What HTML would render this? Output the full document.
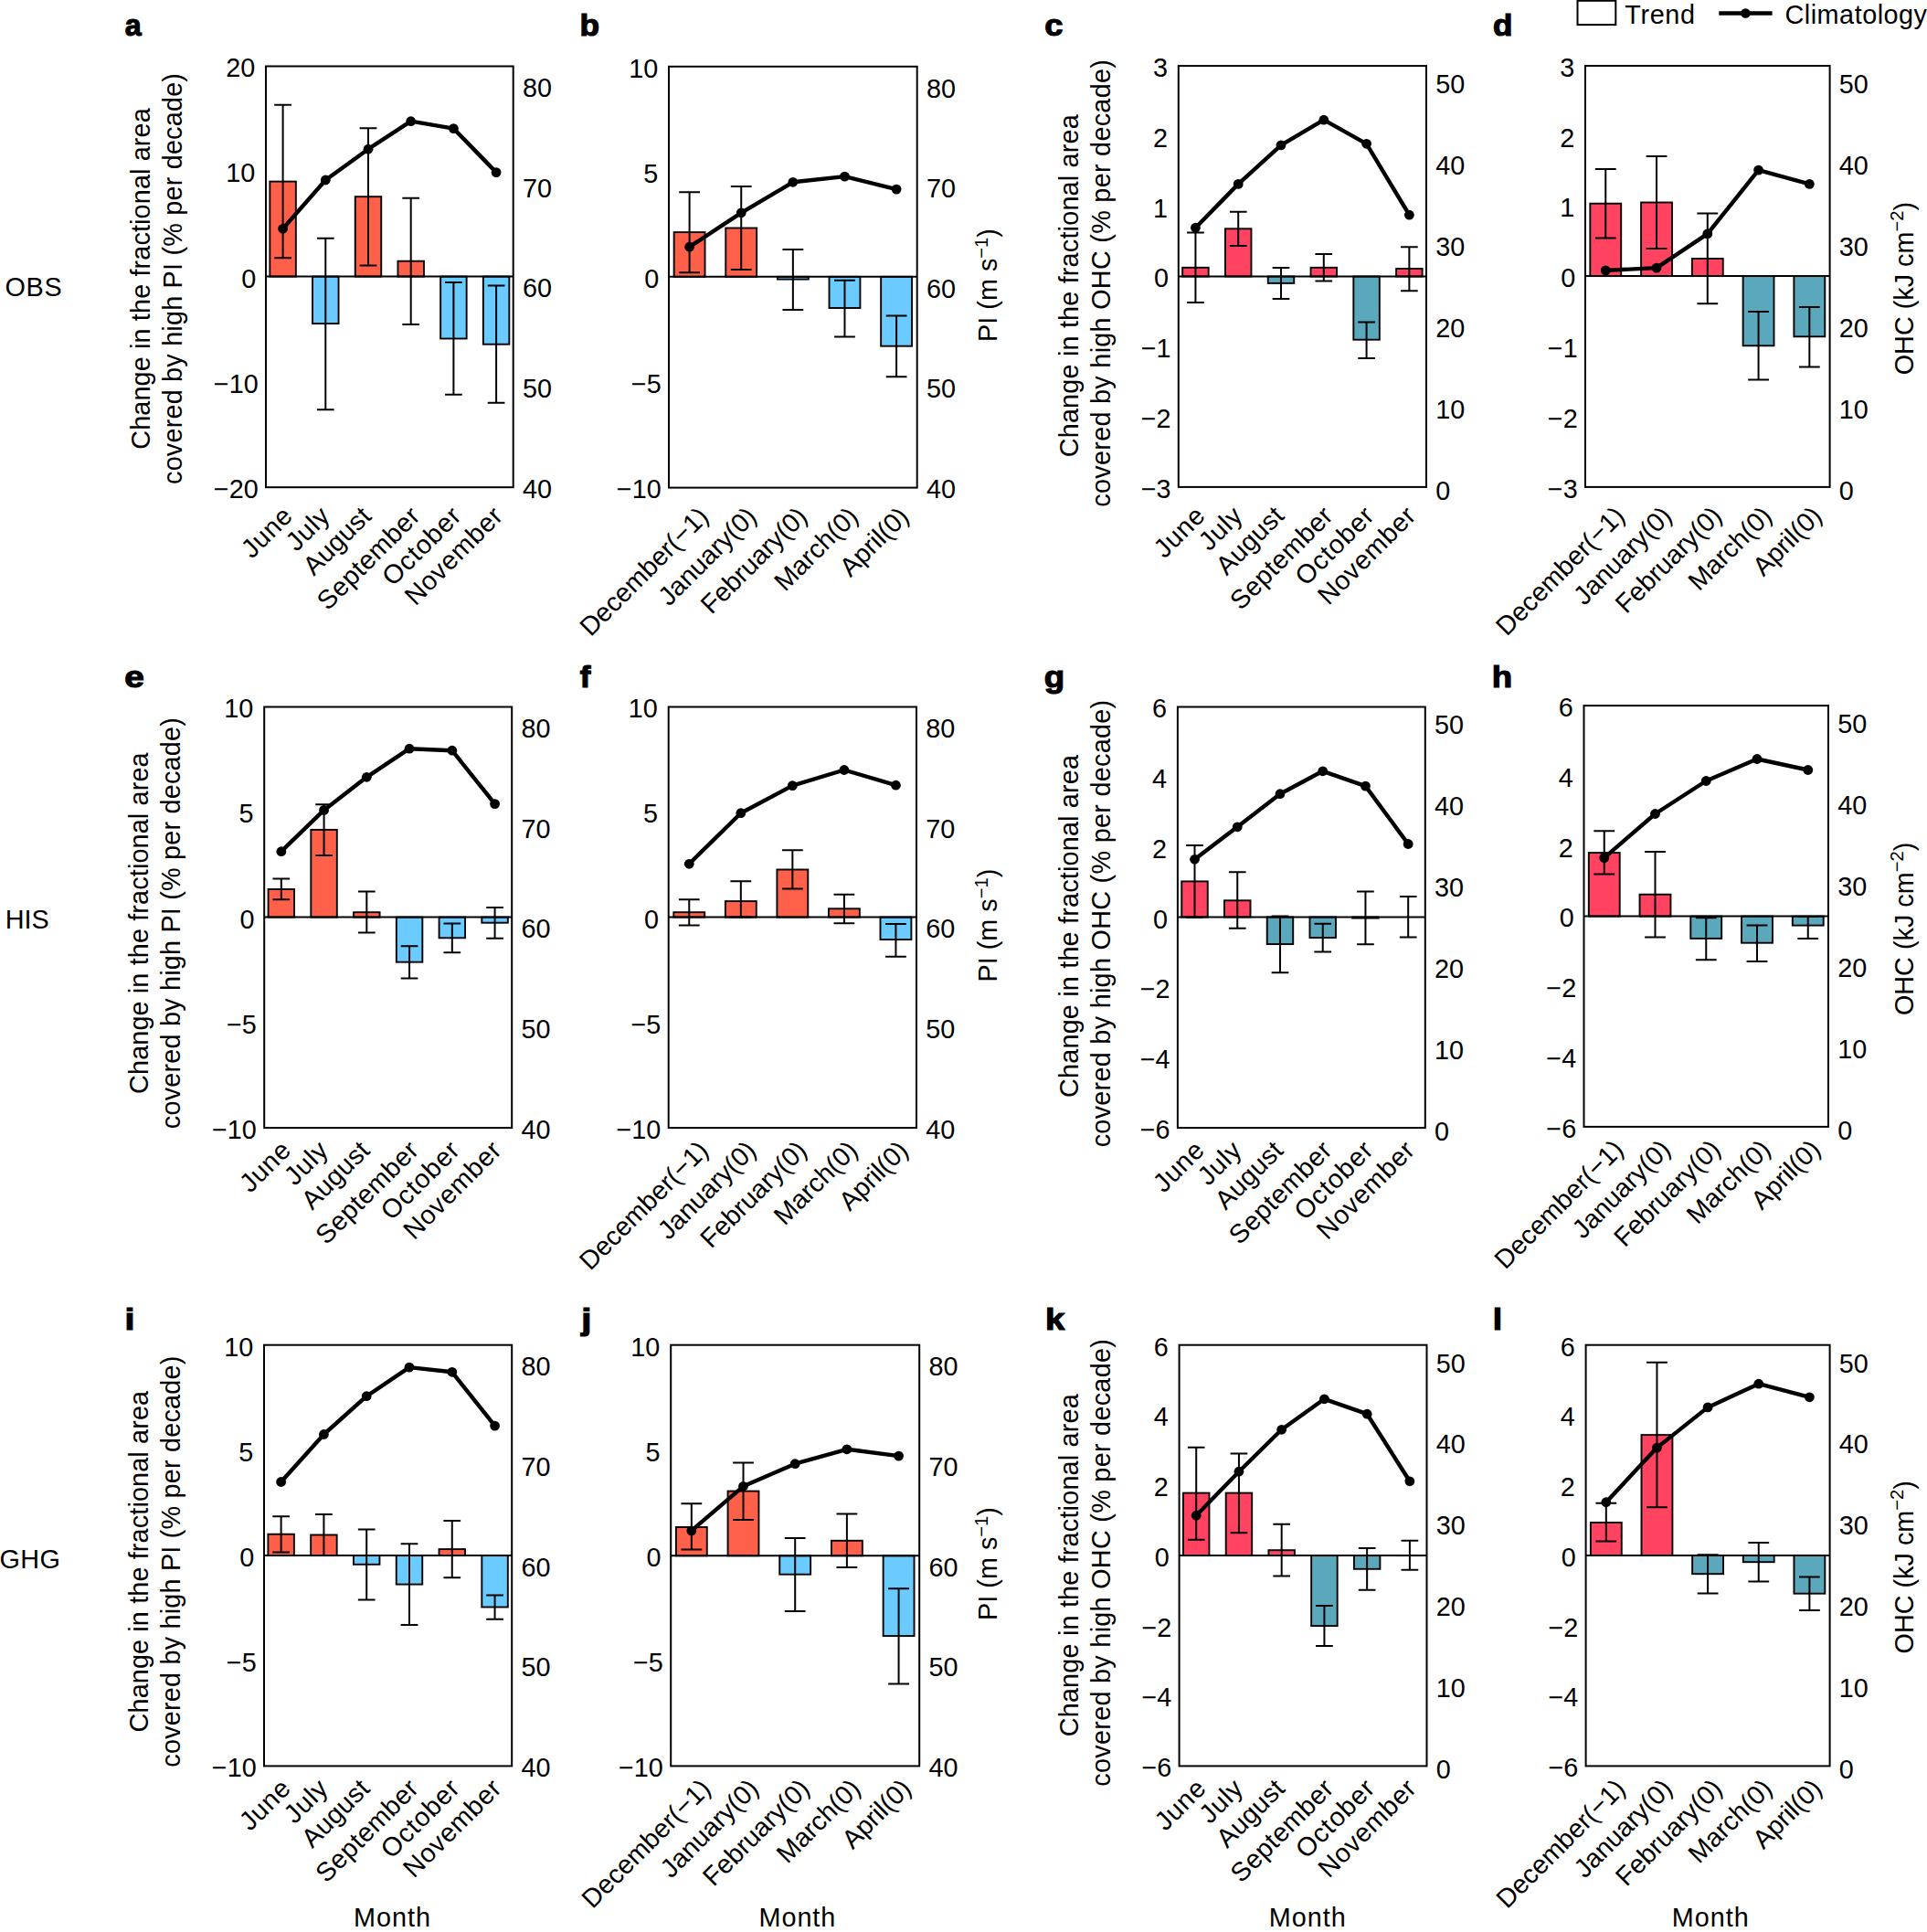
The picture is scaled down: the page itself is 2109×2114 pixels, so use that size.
<!DOCTYPE html><html><head><meta charset="utf-8"><style>html,body{margin:0;padding:0;background:#fff;overflow:hidden;}svg{display:block;}text{font-family:"Liberation Sans",sans-serif;font-size:28.8px;fill:#000;}</style></head><body>
<svg width="2109" height="2114" viewBox="0 0 2109 2114" xmlns="http://www.w3.org/2000/svg">
<rect width="2109" height="2114" fill="#fff"/>
<rect x="295.35" y="198.6" width="28.5" height="104" fill="#FF604A" stroke="#000" stroke-width="1.9"/>
<rect x="342.05" y="302.6" width="28.5" height="51.5" fill="#6BCBFF" stroke="#000" stroke-width="1.9"/>
<rect x="388.75" y="215.2" width="28.5" height="87.4" fill="#FF604A" stroke="#000" stroke-width="1.9"/>
<rect x="435.45" y="285.7" width="28.5" height="16.9" fill="#FF604A" stroke="#000" stroke-width="1.9"/>
<rect x="482.15" y="302.6" width="28.5" height="67.9" fill="#6BCBFF" stroke="#000" stroke-width="1.9"/>
<rect x="528.85" y="302.6" width="28.5" height="74.1" fill="#6BCBFF" stroke="#000" stroke-width="1.9"/>
<line x1="291" y1="302.6" x2="561.7" y2="302.6" stroke="#000" stroke-width="2"/>
<path d="M309.6 114.8V282.3M300.25 114.8H318.95M300.25 282.3H318.95" stroke="#000" stroke-width="2" fill="none"/>
<path d="M356.3 260.8V448.3M346.95 260.8H365.65M346.95 448.3H365.65" stroke="#000" stroke-width="2" fill="none"/>
<path d="M403 140.2V290.4M393.65 140.2H412.35M393.65 290.4H412.35" stroke="#000" stroke-width="2" fill="none"/>
<path d="M449.7 216.8V354.9M440.35 216.8H459.05M440.35 354.9H459.05" stroke="#000" stroke-width="2" fill="none"/>
<path d="M496.4 309V431.7M487.05 309H505.75M487.05 431.7H505.75" stroke="#000" stroke-width="2" fill="none"/>
<path d="M543.1 312.6V440.7M533.75 312.6H552.45M533.75 440.7H552.45" stroke="#000" stroke-width="2" fill="none"/>
<polyline points="309.6,250.3 356.3,197 403,163.2 449.7,132.7 496.4,140.6 543.1,188.6" fill="none" stroke="#000" stroke-width="4.4" stroke-linejoin="round"/>
<circle cx="309.6" cy="250.3" r="5.4"/>
<circle cx="356.3" cy="197" r="5.4"/>
<circle cx="403" cy="163.2" r="5.4"/>
<circle cx="449.7" cy="132.7" r="5.4"/>
<circle cx="496.4" cy="140.6" r="5.4"/>
<circle cx="543.1" cy="188.6" r="5.4"/>
<rect x="291" y="72.5" width="270.7" height="460.7" fill="none" stroke="#000" stroke-width="2"/>
<text x="279.2" y="84.31" text-anchor="end">20</text>
<text x="279.2" y="199.49" text-anchor="end">10</text>
<text x="280.2" y="314.66" text-anchor="end">0</text>
<text x="282.7" y="429.84" text-anchor="end">−10</text>
<text x="282.7" y="545.01" text-anchor="end">−20</text>
<text x="571.9" y="106.21">80</text>
<text x="571.9" y="215.81">70</text>
<text x="571.9" y="325.41">60</text>
<text x="571.9" y="435.01">50</text>
<text x="571.9" y="544.61">40</text>
<text transform="translate(321.6 566.5) rotate(-45)" text-anchor="end" textLength="64.8">June</text>
<text transform="translate(362.4 566.5) rotate(-45)" text-anchor="end" textLength="53.6">July</text>
<text transform="translate(407.9 566.5) rotate(-45)" text-anchor="end" textLength="91.2">August</text>
<text transform="translate(461.3 566.5) rotate(-45)" text-anchor="end" textLength="144.9">September</text>
<text transform="translate(506.2 566.5) rotate(-45)" text-anchor="end" textLength="107.6">October</text>
<text transform="translate(551.8 566.5) rotate(-45)" text-anchor="end" textLength="137.4">November</text>
<rect x="737.65" y="254.1" width="33.9" height="48.7" fill="#FF604A" stroke="#000" stroke-width="1.9"/>
<rect x="794.27" y="249.5" width="33.9" height="53.3" fill="#FF604A" stroke="#000" stroke-width="1.9"/>
<rect x="850.9" y="302.8" width="33.9" height="2.8" fill="#6BCBFF" stroke="#000" stroke-width="1.9"/>
<rect x="907.52" y="302.8" width="33.9" height="34.2" fill="#6BCBFF" stroke="#000" stroke-width="1.9"/>
<rect x="964.15" y="302.8" width="33.9" height="75.9" fill="#6BCBFF" stroke="#000" stroke-width="1.9"/>
<line x1="732" y1="302.8" x2="1003.7" y2="302.8" stroke="#000" stroke-width="2"/>
<path d="M754.6 210.2V298.2M743.2 210.2H766M743.2 298.2H766" stroke="#000" stroke-width="2" fill="none"/>
<path d="M811.23 204V295.1M799.83 204H822.62M799.83 295.1H822.62" stroke="#000" stroke-width="2" fill="none"/>
<path d="M867.85 273V339M856.45 273H879.25M856.45 339H879.25" stroke="#000" stroke-width="2" fill="none"/>
<path d="M924.48 306.7V368.6M913.08 306.7H935.88M913.08 368.6H935.88" stroke="#000" stroke-width="2" fill="none"/>
<path d="M981.1 345.6V412.2M969.7 345.6H992.5M969.7 412.2H992.5" stroke="#000" stroke-width="2" fill="none"/>
<polyline points="754.6,270.2 811.23,232.8 867.85,199.3 924.48,193.1 981.1,207.1" fill="none" stroke="#000" stroke-width="4.4" stroke-linejoin="round"/>
<circle cx="754.6" cy="270.2" r="5.4"/>
<circle cx="811.23" cy="232.8" r="5.4"/>
<circle cx="867.85" cy="199.3" r="5.4"/>
<circle cx="924.48" cy="193.1" r="5.4"/>
<circle cx="981.1" cy="207.1" r="5.4"/>
<rect x="732" y="72.8" width="271.7" height="460.8" fill="none" stroke="#000" stroke-width="2"/>
<text x="720.2" y="84.61" text-anchor="end">10</text>
<text x="720.2" y="199.81" text-anchor="end">5</text>
<text x="721.2" y="315.01" text-anchor="end">0</text>
<text x="723.7" y="430.21" text-anchor="end">−5</text>
<text x="723.7" y="545.41" text-anchor="end">−10</text>
<text x="1013.9" y="106.61">80</text>
<text x="1013.9" y="216.21">70</text>
<text x="1013.9" y="325.81">60</text>
<text x="1013.9" y="435.41">50</text>
<text x="1013.9" y="545.01">40</text>
<text transform="translate(777.1 566.9) rotate(-45)" text-anchor="end">December(−1)</text>
<text transform="translate(829.52 566.9) rotate(-45)" text-anchor="end">January(0)</text>
<text transform="translate(885.15 566.9) rotate(-45)" text-anchor="end">February(0)</text>
<text transform="translate(940.77 566.9) rotate(-45)" text-anchor="end">March(0)</text>
<text transform="translate(996.3 566.9) rotate(-45)" text-anchor="end">April(0)</text>
<rect x="1294.18" y="292.8" width="28.5" height="9.7" fill="#FF4361" stroke="#000" stroke-width="1.9"/>
<rect x="1340.97" y="250.3" width="28.5" height="52.2" fill="#FF4361" stroke="#000" stroke-width="1.9"/>
<rect x="1387.76" y="302.5" width="28.5" height="7.4" fill="#5BA7BC" stroke="#000" stroke-width="1.9"/>
<rect x="1434.54" y="292.8" width="28.5" height="9.7" fill="#FF4361" stroke="#000" stroke-width="1.9"/>
<rect x="1481.33" y="302.5" width="28.5" height="69.2" fill="#5BA7BC" stroke="#000" stroke-width="1.9"/>
<rect x="1528.12" y="294" width="28.5" height="8.5" fill="#FF4361" stroke="#000" stroke-width="1.9"/>
<line x1="1289.8" y1="302.5" x2="1561" y2="302.5" stroke="#000" stroke-width="2"/>
<path d="M1308.43 254.6V330.9M1299.08 254.6H1317.78M1299.08 330.9H1317.78" stroke="#000" stroke-width="2" fill="none"/>
<path d="M1355.22 231.7V268.9M1345.87 231.7H1364.57M1345.87 268.9H1364.57" stroke="#000" stroke-width="2" fill="none"/>
<path d="M1402.01 293.1V327.1M1392.66 293.1H1411.36M1392.66 327.1H1411.36" stroke="#000" stroke-width="2" fill="none"/>
<path d="M1448.79 278V307.4M1439.44 278H1458.14M1439.44 307.4H1458.14" stroke="#000" stroke-width="2" fill="none"/>
<path d="M1495.58 352.6V392M1486.23 352.6H1504.93M1486.23 392H1504.93" stroke="#000" stroke-width="2" fill="none"/>
<path d="M1542.37 270.2V318.3M1533.02 270.2H1551.72M1533.02 318.3H1551.72" stroke="#000" stroke-width="2" fill="none"/>
<polyline points="1308.43,249.2 1355.22,201.4 1402.01,158.9 1448.79,131.2 1495.58,157.3 1542.37,235.2" fill="none" stroke="#000" stroke-width="4.4" stroke-linejoin="round"/>
<circle cx="1308.43" cy="249.2" r="5.4"/>
<circle cx="1355.22" cy="201.4" r="5.4"/>
<circle cx="1402.01" cy="158.9" r="5.4"/>
<circle cx="1448.79" cy="131.2" r="5.4"/>
<circle cx="1495.58" cy="157.3" r="5.4"/>
<circle cx="1542.37" cy="235.2" r="5.4"/>
<rect x="1289.8" y="72.1" width="271.2" height="460.8" fill="none" stroke="#000" stroke-width="2"/>
<text x="1278" y="83.91" text-anchor="end">3</text>
<text x="1278" y="160.71" text-anchor="end">2</text>
<text x="1278" y="237.51" text-anchor="end">1</text>
<text x="1279" y="314.31" text-anchor="end">0</text>
<text x="1281.5" y="391.11" text-anchor="end">−1</text>
<text x="1281.5" y="467.91" text-anchor="end">−2</text>
<text x="1281.5" y="544.71" text-anchor="end">−3</text>
<text x="1571.2" y="102.01">50</text>
<text x="1571.2" y="190.91">40</text>
<text x="1571.2" y="279.81">30</text>
<text x="1571.2" y="368.71">20</text>
<text x="1571.2" y="457.61">10</text>
<text x="1571.2" y="546.51">0</text>
<text transform="translate(1320.43 566.2) rotate(-45)" text-anchor="end" textLength="64.8">June</text>
<text transform="translate(1361.32 566.2) rotate(-45)" text-anchor="end" textLength="53.6">July</text>
<text transform="translate(1406.91 566.2) rotate(-45)" text-anchor="end" textLength="91.2">August</text>
<text transform="translate(1460.39 566.2) rotate(-45)" text-anchor="end" textLength="144.9">September</text>
<text transform="translate(1505.38 566.2) rotate(-45)" text-anchor="end" textLength="107.6">October</text>
<text transform="translate(1551.07 566.2) rotate(-45)" text-anchor="end" textLength="137.4">November</text>
<rect x="1740.31" y="222.7" width="33.9" height="79.4" fill="#FF4361" stroke="#000" stroke-width="1.9"/>
<rect x="1796.08" y="221.5" width="33.9" height="80.6" fill="#FF4361" stroke="#000" stroke-width="1.9"/>
<rect x="1851.85" y="283" width="33.9" height="19.1" fill="#FF4361" stroke="#000" stroke-width="1.9"/>
<rect x="1907.62" y="302.1" width="33.9" height="76.2" fill="#5BA7BC" stroke="#000" stroke-width="1.9"/>
<rect x="1963.39" y="302.1" width="33.9" height="66.2" fill="#5BA7BC" stroke="#000" stroke-width="1.9"/>
<line x1="1735" y1="302.1" x2="2002.6" y2="302.1" stroke="#000" stroke-width="2"/>
<path d="M1757.26 185V260.4M1745.86 185H1768.66M1745.86 260.4H1768.66" stroke="#000" stroke-width="2" fill="none"/>
<path d="M1813.03 171V272M1801.63 171H1824.43M1801.63 272H1824.43" stroke="#000" stroke-width="2" fill="none"/>
<path d="M1868.8 233.6V332.3M1857.4 233.6H1880.2M1857.4 332.3H1880.2" stroke="#000" stroke-width="2" fill="none"/>
<path d="M1924.57 341.1V415.6M1913.17 341.1H1935.97M1913.17 415.6H1935.97" stroke="#000" stroke-width="2" fill="none"/>
<path d="M1980.34 335.9V401.6M1968.94 335.9H1991.74M1968.94 401.6H1991.74" stroke="#000" stroke-width="2" fill="none"/>
<polyline points="1757.26,295.9 1813.03,293.1 1868.8,255.9 1924.57,186.1 1980.34,201.4" fill="none" stroke="#000" stroke-width="4.4" stroke-linejoin="round"/>
<circle cx="1757.26" cy="295.9" r="5.4"/>
<circle cx="1813.03" cy="293.1" r="5.4"/>
<circle cx="1868.8" cy="255.9" r="5.4"/>
<circle cx="1924.57" cy="186.1" r="5.4"/>
<circle cx="1980.34" cy="201.4" r="5.4"/>
<rect x="1735" y="72" width="267.6" height="460.9" fill="none" stroke="#000" stroke-width="2"/>
<text x="1723.2" y="83.81" text-anchor="end">3</text>
<text x="1723.2" y="160.63" text-anchor="end">2</text>
<text x="1723.2" y="237.44" text-anchor="end">1</text>
<text x="1724.2" y="314.26" text-anchor="end">0</text>
<text x="1726.7" y="391.08" text-anchor="end">−1</text>
<text x="1726.7" y="467.89" text-anchor="end">−2</text>
<text x="1726.7" y="544.71" text-anchor="end">−3</text>
<text x="2012.8" y="102.01">50</text>
<text x="2012.8" y="190.91">40</text>
<text x="2012.8" y="279.81">30</text>
<text x="2012.8" y="368.71">20</text>
<text x="2012.8" y="457.61">10</text>
<text x="2012.8" y="546.51">0</text>
<text transform="translate(1779.76 566.2) rotate(-45)" text-anchor="end">December(−1)</text>
<text transform="translate(1831.33 566.2) rotate(-45)" text-anchor="end">January(0)</text>
<text transform="translate(1886.1 566.2) rotate(-45)" text-anchor="end">February(0)</text>
<text transform="translate(1940.87 566.2) rotate(-45)" text-anchor="end">March(0)</text>
<text transform="translate(1995.54 566.2) rotate(-45)" text-anchor="end">April(0)</text>
<rect x="293.57" y="973" width="28.5" height="30.6" fill="#FF604A" stroke="#000" stroke-width="1.9"/>
<rect x="340.32" y="907.9" width="28.5" height="95.7" fill="#FF604A" stroke="#000" stroke-width="1.9"/>
<rect x="387.07" y="998.2" width="28.5" height="5.4" fill="#FF604A" stroke="#000" stroke-width="1.9"/>
<rect x="433.83" y="1003.6" width="28.5" height="49.1" fill="#6BCBFF" stroke="#000" stroke-width="1.9"/>
<rect x="480.58" y="1003.6" width="28.5" height="22.7" fill="#6BCBFF" stroke="#000" stroke-width="1.9"/>
<rect x="527.33" y="1003.6" width="28.5" height="6.1" fill="#6BCBFF" stroke="#000" stroke-width="1.9"/>
<line x1="289.2" y1="1003.6" x2="560.2" y2="1003.6" stroke="#000" stroke-width="2"/>
<path d="M307.82 961.6V984.2M298.47 961.6H317.17M298.47 984.2H317.17" stroke="#000" stroke-width="2" fill="none"/>
<path d="M354.57 880.2V935.9M345.22 880.2H363.92M345.22 935.9H363.92" stroke="#000" stroke-width="2" fill="none"/>
<path d="M401.32 975.6V1020.4M391.97 975.6H410.67M391.97 1020.4H410.67" stroke="#000" stroke-width="2" fill="none"/>
<path d="M448.08 1035.2V1070.6M438.73 1035.2H457.43M438.73 1070.6H457.43" stroke="#000" stroke-width="2" fill="none"/>
<path d="M494.83 1010.6V1042.2M485.48 1010.6H504.18M485.48 1042.2H504.18" stroke="#000" stroke-width="2" fill="none"/>
<path d="M541.58 993.1V1026.7M532.23 993.1H550.93M532.23 1026.7H550.93" stroke="#000" stroke-width="2" fill="none"/>
<polyline points="307.82,931.7 354.57,886.4 401.32,850.3 448.08,819.2 494.83,821.2 541.58,879.6" fill="none" stroke="#000" stroke-width="4.4" stroke-linejoin="round"/>
<circle cx="307.82" cy="931.7" r="5.4"/>
<circle cx="354.57" cy="886.4" r="5.4"/>
<circle cx="401.32" cy="850.3" r="5.4"/>
<circle cx="448.08" cy="819.2" r="5.4"/>
<circle cx="494.83" cy="821.2" r="5.4"/>
<circle cx="541.58" cy="879.6" r="5.4"/>
<rect x="289.2" y="773.5" width="271" height="460.6" fill="none" stroke="#000" stroke-width="2"/>
<text x="277.4" y="785.31" text-anchor="end">10</text>
<text x="277.4" y="900.46" text-anchor="end">5</text>
<text x="278.4" y="1015.61" text-anchor="end">0</text>
<text x="280.9" y="1130.76" text-anchor="end">−5</text>
<text x="280.9" y="1245.91" text-anchor="end">−10</text>
<text x="570.4" y="807.11">80</text>
<text x="570.4" y="916.71">70</text>
<text x="570.4" y="1026.31">60</text>
<text x="570.4" y="1135.91">50</text>
<text x="570.4" y="1245.51">40</text>
<text transform="translate(319.82 1260.5) rotate(-45)" text-anchor="end" textLength="64.8">June</text>
<text transform="translate(360.67 1260.5) rotate(-45)" text-anchor="end" textLength="53.6">July</text>
<text transform="translate(406.22 1260.5) rotate(-45)" text-anchor="end" textLength="91.2">August</text>
<text transform="translate(459.68 1260.5) rotate(-45)" text-anchor="end" textLength="144.9">September</text>
<text transform="translate(504.63 1260.5) rotate(-45)" text-anchor="end" textLength="107.6">October</text>
<text transform="translate(550.28 1260.5) rotate(-45)" text-anchor="end" textLength="137.4">November</text>
<rect x="737.32" y="998.2" width="33.9" height="5.4" fill="#FF604A" stroke="#000" stroke-width="1.9"/>
<rect x="793.86" y="986.1" width="33.9" height="17.5" fill="#FF604A" stroke="#000" stroke-width="1.9"/>
<rect x="850.4" y="951.5" width="33.9" height="52.1" fill="#FF604A" stroke="#000" stroke-width="1.9"/>
<rect x="906.94" y="994.3" width="33.9" height="9.3" fill="#FF604A" stroke="#000" stroke-width="1.9"/>
<rect x="963.48" y="1003.6" width="33.9" height="24.5" fill="#6BCBFF" stroke="#000" stroke-width="1.9"/>
<line x1="731.7" y1="1003.6" x2="1003" y2="1003.6" stroke="#000" stroke-width="2"/>
<path d="M754.27 984.2V1012.6M742.87 984.2H765.67M742.87 1012.6H765.67" stroke="#000" stroke-width="2" fill="none"/>
<path d="M810.81 964.3V1003.6M799.41 964.3H822.21M799.41 1003.6H822.21" stroke="#000" stroke-width="2" fill="none"/>
<path d="M867.35 930.2V972.5M855.95 930.2H878.75M855.95 972.5H878.75" stroke="#000" stroke-width="2" fill="none"/>
<path d="M923.89 978.7V1010.2M912.49 978.7H935.29M912.49 1010.2H935.29" stroke="#000" stroke-width="2" fill="none"/>
<path d="M980.43 1011V1046.8M969.03 1011H991.83M969.03 1046.8H991.83" stroke="#000" stroke-width="2" fill="none"/>
<polyline points="754.27,945.3 810.81,889.7 867.35,859.6 923.89,842.5 980.43,859.2" fill="none" stroke="#000" stroke-width="4.4" stroke-linejoin="round"/>
<circle cx="754.27" cy="945.3" r="5.4"/>
<circle cx="810.81" cy="889.7" r="5.4"/>
<circle cx="867.35" cy="859.6" r="5.4"/>
<circle cx="923.89" cy="842.5" r="5.4"/>
<circle cx="980.43" cy="859.2" r="5.4"/>
<rect x="731.7" y="773.5" width="271.3" height="460.6" fill="none" stroke="#000" stroke-width="2"/>
<text x="719.9" y="785.31" text-anchor="end">10</text>
<text x="719.9" y="900.46" text-anchor="end">5</text>
<text x="720.9" y="1015.61" text-anchor="end">0</text>
<text x="723.4" y="1130.76" text-anchor="end">−5</text>
<text x="723.4" y="1245.91" text-anchor="end">−10</text>
<text x="1013.2" y="807.11">80</text>
<text x="1013.2" y="916.71">70</text>
<text x="1013.2" y="1026.31">60</text>
<text x="1013.2" y="1135.91">50</text>
<text x="1013.2" y="1245.51">40</text>
<text transform="translate(776.77 1260.5) rotate(-45)" text-anchor="end">December(−1)</text>
<text transform="translate(829.11 1260.5) rotate(-45)" text-anchor="end">January(0)</text>
<text transform="translate(884.65 1260.5) rotate(-45)" text-anchor="end">February(0)</text>
<text transform="translate(940.19 1260.5) rotate(-45)" text-anchor="end">March(0)</text>
<text transform="translate(995.63 1260.5) rotate(-45)" text-anchor="end">April(0)</text>
<rect x="1293.26" y="964.4" width="28.5" height="39.1" fill="#FF4361" stroke="#000" stroke-width="1.9"/>
<rect x="1340" y="985.3" width="28.5" height="18.2" fill="#FF4361" stroke="#000" stroke-width="1.9"/>
<rect x="1386.73" y="1003.5" width="28.5" height="29.6" fill="#5BA7BC" stroke="#000" stroke-width="1.9"/>
<rect x="1433.47" y="1003.5" width="28.5" height="22.6" fill="#5BA7BC" stroke="#000" stroke-width="1.9"/>
<rect x="1480.2" y="1003.5" width="28.5" height="1.1" fill="#5BA7BC" stroke="#000" stroke-width="1.9"/>
<line x1="1288.9" y1="1003.5" x2="1559.8" y2="1003.5" stroke="#000" stroke-width="2"/>
<path d="M1307.51 925V1003.8M1298.16 925H1316.86M1298.16 1003.8H1316.86" stroke="#000" stroke-width="2" fill="none"/>
<path d="M1354.25 954.3V1015.7M1344.9 954.3H1363.6M1344.9 1015.7H1363.6" stroke="#000" stroke-width="2" fill="none"/>
<path d="M1400.98 1002.5V1064.3M1391.63 1002.5H1410.33M1391.63 1064.3H1410.33" stroke="#000" stroke-width="2" fill="none"/>
<path d="M1447.72 1010.7V1041.4M1438.37 1010.7H1457.07M1438.37 1041.4H1457.07" stroke="#000" stroke-width="2" fill="none"/>
<path d="M1494.45 975.6V1033.3M1485.1 975.6H1503.8M1485.1 1033.3H1503.8" stroke="#000" stroke-width="2" fill="none"/>
<path d="M1541.19 981.1V1025.5M1531.84 981.1H1550.54M1531.84 1025.5H1550.54" stroke="#000" stroke-width="2" fill="none"/>
<polyline points="1307.51,940.3 1354.25,904.8 1400.98,868.7 1447.72,843.8 1494.45,860.1 1541.19,923.5" fill="none" stroke="#000" stroke-width="4.4" stroke-linejoin="round"/>
<circle cx="1307.51" cy="940.3" r="5.4"/>
<circle cx="1354.25" cy="904.8" r="5.4"/>
<circle cx="1400.98" cy="868.7" r="5.4"/>
<circle cx="1447.72" cy="843.8" r="5.4"/>
<circle cx="1494.45" cy="860.1" r="5.4"/>
<circle cx="1541.19" cy="923.5" r="5.4"/>
<rect x="1288.9" y="773.5" width="270.9" height="460.6" fill="none" stroke="#000" stroke-width="2"/>
<text x="1277.1" y="785.31" text-anchor="end">6</text>
<text x="1277.1" y="862.08" text-anchor="end">4</text>
<text x="1277.1" y="938.84" text-anchor="end">2</text>
<text x="1278.1" y="1015.61" text-anchor="end">0</text>
<text x="1280.6" y="1092.38" text-anchor="end">−2</text>
<text x="1280.6" y="1169.14" text-anchor="end">−4</text>
<text x="1280.6" y="1245.91" text-anchor="end">−6</text>
<text x="1570" y="803.21">50</text>
<text x="1570" y="892.11">40</text>
<text x="1570" y="981.01">30</text>
<text x="1570" y="1069.91">20</text>
<text x="1570" y="1158.81">10</text>
<text x="1570" y="1247.71">0</text>
<text transform="translate(1319.51 1260.5) rotate(-45)" text-anchor="end" textLength="64.8">June</text>
<text transform="translate(1360.35 1260.5) rotate(-45)" text-anchor="end" textLength="53.6">July</text>
<text transform="translate(1405.88 1260.5) rotate(-45)" text-anchor="end" textLength="91.2">August</text>
<text transform="translate(1459.32 1260.5) rotate(-45)" text-anchor="end" textLength="144.9">September</text>
<text transform="translate(1504.25 1260.5) rotate(-45)" text-anchor="end" textLength="107.6">October</text>
<text transform="translate(1549.89 1260.5) rotate(-45)" text-anchor="end" textLength="137.4">November</text>
<rect x="1738.8" y="933.1" width="33.9" height="69.5" fill="#FF4361" stroke="#000" stroke-width="1.9"/>
<rect x="1794.55" y="978.7" width="33.9" height="23.9" fill="#FF4361" stroke="#000" stroke-width="1.9"/>
<rect x="1850.3" y="1002.6" width="33.9" height="24.3" fill="#5BA7BC" stroke="#000" stroke-width="1.9"/>
<rect x="1906.05" y="1002.6" width="33.9" height="29.1" fill="#5BA7BC" stroke="#000" stroke-width="1.9"/>
<rect x="1961.8" y="1002.6" width="33.9" height="10" fill="#5BA7BC" stroke="#000" stroke-width="1.9"/>
<line x1="1733.5" y1="1002.6" x2="2001" y2="1002.6" stroke="#000" stroke-width="2"/>
<path d="M1755.75 909.2V956.6M1744.35 909.2H1767.15M1744.35 956.6H1767.15" stroke="#000" stroke-width="2" fill="none"/>
<path d="M1811.5 932V1025.5M1800.1 932H1822.9M1800.1 1025.5H1822.9" stroke="#000" stroke-width="2" fill="none"/>
<path d="M1867.25 1004.3V1050.3M1855.85 1004.3H1878.65M1855.85 1050.3H1878.65" stroke="#000" stroke-width="2" fill="none"/>
<path d="M1923 1012.6V1052M1911.6 1012.6H1934.4M1911.6 1052H1934.4" stroke="#000" stroke-width="2" fill="none"/>
<path d="M1978.75 1003V1026.9M1967.35 1003H1990.15M1967.35 1026.9H1990.15" stroke="#000" stroke-width="2" fill="none"/>
<polyline points="1755.75,938.6 1811.5,890.5 1867.25,854.5 1923,830.5 1978.75,842.5" fill="none" stroke="#000" stroke-width="4.4" stroke-linejoin="round"/>
<circle cx="1755.75" cy="938.6" r="5.4"/>
<circle cx="1811.5" cy="890.5" r="5.4"/>
<circle cx="1867.25" cy="854.5" r="5.4"/>
<circle cx="1923" cy="830.5" r="5.4"/>
<circle cx="1978.75" cy="842.5" r="5.4"/>
<rect x="1733.5" y="772.1" width="267.5" height="460.8" fill="none" stroke="#000" stroke-width="2"/>
<text x="1721.7" y="783.91" text-anchor="end">6</text>
<text x="1721.7" y="860.71" text-anchor="end">4</text>
<text x="1721.7" y="937.51" text-anchor="end">2</text>
<text x="1722.7" y="1014.31" text-anchor="end">0</text>
<text x="1725.2" y="1091.11" text-anchor="end">−2</text>
<text x="1725.2" y="1167.91" text-anchor="end">−4</text>
<text x="1725.2" y="1244.71" text-anchor="end">−6</text>
<text x="2011.2" y="802.01">50</text>
<text x="2011.2" y="890.91">40</text>
<text x="2011.2" y="979.81">30</text>
<text x="2011.2" y="1068.71">20</text>
<text x="2011.2" y="1157.61">10</text>
<text x="2011.2" y="1246.51">0</text>
<text transform="translate(1778.25 1259.3) rotate(-45)" text-anchor="end">December(−1)</text>
<text transform="translate(1829.8 1259.3) rotate(-45)" text-anchor="end">January(0)</text>
<text transform="translate(1884.55 1259.3) rotate(-45)" text-anchor="end">February(0)</text>
<text transform="translate(1939.3 1259.3) rotate(-45)" text-anchor="end">March(0)</text>
<text transform="translate(1993.95 1259.3) rotate(-45)" text-anchor="end">April(0)</text>
<rect x="293.38" y="1678.7" width="28.5" height="23.4" fill="#FF604A" stroke="#000" stroke-width="1.9"/>
<rect x="340.17" y="1679.5" width="28.5" height="22.6" fill="#FF604A" stroke="#000" stroke-width="1.9"/>
<rect x="386.96" y="1702.1" width="28.5" height="9.7" fill="#6BCBFF" stroke="#000" stroke-width="1.9"/>
<rect x="433.74" y="1702.1" width="28.5" height="31.5" fill="#6BCBFF" stroke="#000" stroke-width="1.9"/>
<rect x="480.53" y="1695.1" width="28.5" height="7" fill="#FF604A" stroke="#000" stroke-width="1.9"/>
<rect x="527.32" y="1702.1" width="28.5" height="56.4" fill="#6BCBFF" stroke="#000" stroke-width="1.9"/>
<line x1="289" y1="1702.1" x2="560.2" y2="1702.1" stroke="#000" stroke-width="2"/>
<path d="M307.63 1659.3V1698.6M298.28 1659.3H316.98M298.28 1698.6H316.98" stroke="#000" stroke-width="2" fill="none"/>
<path d="M354.42 1657V1702.1M345.07 1657H363.77M345.07 1702.1H363.77" stroke="#000" stroke-width="2" fill="none"/>
<path d="M401.21 1673.6V1750.4M391.86 1673.6H410.56M391.86 1750.4H410.56" stroke="#000" stroke-width="2" fill="none"/>
<path d="M447.99 1689.2V1778M438.64 1689.2H457.34M438.64 1778H457.34" stroke="#000" stroke-width="2" fill="none"/>
<path d="M494.78 1664V1726.3M485.43 1664H504.13M485.43 1726.3H504.13" stroke="#000" stroke-width="2" fill="none"/>
<path d="M541.57 1745.6V1771.7M532.22 1745.6H550.92M532.22 1771.7H550.92" stroke="#000" stroke-width="2" fill="none"/>
<polyline points="307.63,1621.5 354.42,1569.5 401.21,1527.7 447.99,1496.1 494.78,1501.3 541.57,1560.1" fill="none" stroke="#000" stroke-width="4.4" stroke-linejoin="round"/>
<circle cx="307.63" cy="1621.5" r="5.4"/>
<circle cx="354.42" cy="1569.5" r="5.4"/>
<circle cx="401.21" cy="1527.7" r="5.4"/>
<circle cx="447.99" cy="1496.1" r="5.4"/>
<circle cx="494.78" cy="1501.3" r="5.4"/>
<circle cx="541.57" cy="1560.1" r="5.4"/>
<rect x="289" y="1471.7" width="271.2" height="460.7" fill="none" stroke="#000" stroke-width="2"/>
<text x="277.2" y="1483.51" text-anchor="end">10</text>
<text x="277.2" y="1598.69" text-anchor="end">5</text>
<text x="278.2" y="1713.86" text-anchor="end">0</text>
<text x="280.7" y="1829.04" text-anchor="end">−5</text>
<text x="280.7" y="1944.21" text-anchor="end">−10</text>
<text x="570.4" y="1505.41">80</text>
<text x="570.4" y="1615.01">70</text>
<text x="570.4" y="1724.61">60</text>
<text x="570.4" y="1834.21">50</text>
<text x="570.4" y="1943.81">40</text>
<text transform="translate(319.63 1958.8) rotate(-45)" text-anchor="end" textLength="64.8">June</text>
<text transform="translate(360.52 1958.8) rotate(-45)" text-anchor="end" textLength="53.6">July</text>
<text transform="translate(406.11 1958.8) rotate(-45)" text-anchor="end" textLength="91.2">August</text>
<text transform="translate(459.59 1958.8) rotate(-45)" text-anchor="end" textLength="144.9">September</text>
<text transform="translate(504.58 1958.8) rotate(-45)" text-anchor="end" textLength="107.6">October</text>
<text transform="translate(550.27 1958.8) rotate(-45)" text-anchor="end" textLength="137.4">November</text>
<rect x="739.87" y="1671" width="33.9" height="31.3" fill="#FF604A" stroke="#000" stroke-width="1.9"/>
<rect x="796.56" y="1631.6" width="33.9" height="70.7" fill="#FF604A" stroke="#000" stroke-width="1.9"/>
<rect x="853.25" y="1702.3" width="33.9" height="20.4" fill="#6BCBFF" stroke="#000" stroke-width="1.9"/>
<rect x="909.94" y="1685.8" width="33.9" height="16.5" fill="#FF604A" stroke="#000" stroke-width="1.9"/>
<rect x="966.63" y="1702.3" width="33.9" height="87.8" fill="#6BCBFF" stroke="#000" stroke-width="1.9"/>
<line x1="734.2" y1="1702.3" x2="1006.2" y2="1702.3" stroke="#000" stroke-width="2"/>
<path d="M756.82 1645.3V1695.4M745.42 1645.3H768.22M745.42 1695.4H768.22" stroke="#000" stroke-width="2" fill="none"/>
<path d="M813.51 1600.4V1662.9M802.11 1600.4H824.91M802.11 1662.9H824.91" stroke="#000" stroke-width="2" fill="none"/>
<path d="M870.2 1683V1762.9M858.8 1683H881.6M858.8 1762.9H881.6" stroke="#000" stroke-width="2" fill="none"/>
<path d="M926.89 1656.6V1714.9M915.49 1656.6H938.29M915.49 1714.9H938.29" stroke="#000" stroke-width="2" fill="none"/>
<path d="M983.58 1738.3V1842.6M972.18 1738.3H994.98M972.18 1842.6H994.98" stroke="#000" stroke-width="2" fill="none"/>
<polyline points="756.82,1674.9 813.51,1626.3 870.2,1601.7 926.89,1585.8 983.58,1593.1" fill="none" stroke="#000" stroke-width="4.4" stroke-linejoin="round"/>
<circle cx="756.82" cy="1674.9" r="5.4"/>
<circle cx="813.51" cy="1626.3" r="5.4"/>
<circle cx="870.2" cy="1601.7" r="5.4"/>
<circle cx="926.89" cy="1585.8" r="5.4"/>
<circle cx="983.58" cy="1593.1" r="5.4"/>
<rect x="734.2" y="1471.7" width="272" height="460.7" fill="none" stroke="#000" stroke-width="2"/>
<text x="722.4" y="1483.51" text-anchor="end">10</text>
<text x="722.4" y="1598.69" text-anchor="end">5</text>
<text x="723.4" y="1713.86" text-anchor="end">0</text>
<text x="725.9" y="1829.04" text-anchor="end">−5</text>
<text x="725.9" y="1944.21" text-anchor="end">−10</text>
<text x="1016.4" y="1505.41">80</text>
<text x="1016.4" y="1615.01">70</text>
<text x="1016.4" y="1724.61">60</text>
<text x="1016.4" y="1834.21">50</text>
<text x="1016.4" y="1943.81">40</text>
<text transform="translate(779.32 1958.8) rotate(-45)" text-anchor="end">December(−1)</text>
<text transform="translate(831.81 1958.8) rotate(-45)" text-anchor="end">January(0)</text>
<text transform="translate(887.5 1958.8) rotate(-45)" text-anchor="end">February(0)</text>
<text transform="translate(943.19 1958.8) rotate(-45)" text-anchor="end">March(0)</text>
<text transform="translate(998.78 1958.8) rotate(-45)" text-anchor="end">April(0)</text>
<rect x="1294.96" y="1633.6" width="28.5" height="68.5" fill="#FF4361" stroke="#000" stroke-width="1.9"/>
<rect x="1341.7" y="1633.6" width="28.5" height="68.5" fill="#FF4361" stroke="#000" stroke-width="1.9"/>
<rect x="1388.43" y="1696.2" width="28.5" height="5.9" fill="#FF4361" stroke="#000" stroke-width="1.9"/>
<rect x="1435.17" y="1702.1" width="28.5" height="77" fill="#5BA7BC" stroke="#000" stroke-width="1.9"/>
<rect x="1481.9" y="1702.1" width="28.5" height="14.7" fill="#5BA7BC" stroke="#000" stroke-width="1.9"/>
<rect x="1528.64" y="1702.1" width="28.5" height="0.01" fill="#5BA7BC" stroke="#000" stroke-width="1.9"/>
<line x1="1290.6" y1="1702.1" x2="1561.5" y2="1702.1" stroke="#000" stroke-width="2"/>
<path d="M1309.21 1583.8V1684.7M1299.86 1583.8H1318.56M1299.86 1684.7H1318.56" stroke="#000" stroke-width="2" fill="none"/>
<path d="M1355.95 1590.5V1677.2M1346.6 1590.5H1365.3M1346.6 1677.2H1365.3" stroke="#000" stroke-width="2" fill="none"/>
<path d="M1402.68 1667.8V1724.6M1393.33 1667.8H1412.03M1393.33 1724.6H1412.03" stroke="#000" stroke-width="2" fill="none"/>
<path d="M1449.42 1756.9V1800.9M1440.07 1756.9H1458.77M1440.07 1800.9H1458.77" stroke="#000" stroke-width="2" fill="none"/>
<path d="M1496.15 1693.9V1739.8M1486.8 1693.9H1505.5M1486.8 1739.8H1505.5" stroke="#000" stroke-width="2" fill="none"/>
<path d="M1542.89 1685.7V1717.7M1533.54 1685.7H1552.24M1533.54 1717.7H1552.24" stroke="#000" stroke-width="2" fill="none"/>
<polyline points="1309.21,1658.2 1355.95,1610.2 1402.68,1564.3 1449.42,1530.8 1496.15,1547.2 1542.89,1620.8" fill="none" stroke="#000" stroke-width="4.4" stroke-linejoin="round"/>
<circle cx="1309.21" cy="1658.2" r="5.4"/>
<circle cx="1355.95" cy="1610.2" r="5.4"/>
<circle cx="1402.68" cy="1564.3" r="5.4"/>
<circle cx="1449.42" cy="1530.8" r="5.4"/>
<circle cx="1496.15" cy="1547.2" r="5.4"/>
<circle cx="1542.89" cy="1620.8" r="5.4"/>
<rect x="1290.6" y="1471.7" width="270.9" height="460.7" fill="none" stroke="#000" stroke-width="2"/>
<text x="1278.8" y="1483.51" text-anchor="end">6</text>
<text x="1278.8" y="1560.29" text-anchor="end">4</text>
<text x="1278.8" y="1637.08" text-anchor="end">2</text>
<text x="1279.8" y="1713.86" text-anchor="end">0</text>
<text x="1282.3" y="1790.64" text-anchor="end">−2</text>
<text x="1282.3" y="1867.43" text-anchor="end">−4</text>
<text x="1282.3" y="1944.21" text-anchor="end">−6</text>
<text x="1571.7" y="1501.51">50</text>
<text x="1571.7" y="1590.41">40</text>
<text x="1571.7" y="1679.31">30</text>
<text x="1571.7" y="1768.21">20</text>
<text x="1571.7" y="1857.11">10</text>
<text x="1571.7" y="1946.01">0</text>
<text transform="translate(1321.21 1958.8) rotate(-45)" text-anchor="end" textLength="64.8">June</text>
<text transform="translate(1362.05 1958.8) rotate(-45)" text-anchor="end" textLength="53.6">July</text>
<text transform="translate(1407.58 1958.8) rotate(-45)" text-anchor="end" textLength="91.2">August</text>
<text transform="translate(1461.02 1958.8) rotate(-45)" text-anchor="end" textLength="144.9">September</text>
<text transform="translate(1505.95 1958.8) rotate(-45)" text-anchor="end" textLength="107.6">October</text>
<text transform="translate(1551.59 1958.8) rotate(-45)" text-anchor="end" textLength="137.4">November</text>
<rect x="1740.86" y="1666" width="33.9" height="35.9" fill="#FF4361" stroke="#000" stroke-width="1.9"/>
<rect x="1796.5" y="1570.1" width="33.9" height="131.8" fill="#FF4361" stroke="#000" stroke-width="1.9"/>
<rect x="1852.15" y="1701.9" width="33.9" height="20.3" fill="#5BA7BC" stroke="#000" stroke-width="1.9"/>
<rect x="1907.8" y="1701.9" width="33.9" height="7.3" fill="#5BA7BC" stroke="#000" stroke-width="1.9"/>
<rect x="1963.44" y="1701.9" width="33.9" height="41.8" fill="#5BA7BC" stroke="#000" stroke-width="1.9"/>
<line x1="1735.6" y1="1701.9" x2="2002.6" y2="1701.9" stroke="#000" stroke-width="2"/>
<path d="M1757.81 1644.8V1686.5M1746.41 1644.8H1769.21M1746.41 1686.5H1769.21" stroke="#000" stroke-width="2" fill="none"/>
<path d="M1813.45 1490.7V1649.2M1802.05 1490.7H1824.85M1802.05 1649.2H1824.85" stroke="#000" stroke-width="2" fill="none"/>
<path d="M1869.1 1701.3V1743.4M1857.7 1701.3H1880.5M1857.7 1743.4H1880.5" stroke="#000" stroke-width="2" fill="none"/>
<path d="M1924.75 1688.1V1730.5M1913.35 1688.1H1936.15M1913.35 1730.5H1936.15" stroke="#000" stroke-width="2" fill="none"/>
<path d="M1980.39 1725.5V1761.9M1968.99 1725.5H1991.79M1968.99 1761.9H1991.79" stroke="#000" stroke-width="2" fill="none"/>
<polyline points="1757.81,1643.7 1813.45,1584.1 1869.1,1539.9 1924.75,1514.2 1980.39,1528.8" fill="none" stroke="#000" stroke-width="4.4" stroke-linejoin="round"/>
<circle cx="1757.81" cy="1643.7" r="5.4"/>
<circle cx="1813.45" cy="1584.1" r="5.4"/>
<circle cx="1869.1" cy="1539.9" r="5.4"/>
<circle cx="1924.75" cy="1514.2" r="5.4"/>
<circle cx="1980.39" cy="1528.8" r="5.4"/>
<rect x="1735.6" y="1471.7" width="267" height="460.7" fill="none" stroke="#000" stroke-width="2"/>
<text x="1723.8" y="1483.51" text-anchor="end">6</text>
<text x="1723.8" y="1560.29" text-anchor="end">4</text>
<text x="1723.8" y="1637.08" text-anchor="end">2</text>
<text x="1724.8" y="1713.86" text-anchor="end">0</text>
<text x="1727.3" y="1790.64" text-anchor="end">−2</text>
<text x="1727.3" y="1867.43" text-anchor="end">−4</text>
<text x="1727.3" y="1944.21" text-anchor="end">−6</text>
<text x="2012.8" y="1501.51">50</text>
<text x="2012.8" y="1590.41">40</text>
<text x="2012.8" y="1679.31">30</text>
<text x="2012.8" y="1768.21">20</text>
<text x="2012.8" y="1857.11">10</text>
<text x="2012.8" y="1946.01">0</text>
<text transform="translate(1780.31 1958.8) rotate(-45)" text-anchor="end">December(−1)</text>
<text transform="translate(1831.75 1958.8) rotate(-45)" text-anchor="end">January(0)</text>
<text transform="translate(1886.4 1958.8) rotate(-45)" text-anchor="end">February(0)</text>
<text transform="translate(1941.05 1958.8) rotate(-45)" text-anchor="end">March(0)</text>
<text transform="translate(1995.59 1958.8) rotate(-45)" text-anchor="end">April(0)</text>
<text transform="translate(163.9 305) rotate(-90)" text-anchor="middle" textLength="373.5">Change in the fractional area</text>
<text transform="translate(198.8 305) rotate(-90)" text-anchor="middle" textLength="449.9">covered by high PI (% per decade)</text>
<text transform="translate(162.4 1010.2) rotate(-90)" text-anchor="middle" textLength="373.5">Change in the fractional area</text>
<text transform="translate(197 1010.2) rotate(-90)" text-anchor="middle" textLength="449.9">covered by high PI (% per decade)</text>
<text transform="translate(162.4 1708.7) rotate(-90)" text-anchor="middle" textLength="373.5">Change in the fractional area</text>
<text transform="translate(197 1708.7) rotate(-90)" text-anchor="middle" textLength="449.9">covered by high PI (% per decade)</text>
<text transform="translate(1180.2 312.75) rotate(-90)" text-anchor="middle" textLength="375">Change in the fractional area</text>
<text transform="translate(1215.4 309.9) rotate(-90)" text-anchor="middle" textLength="489.5">covered by high OHC (% per decade)</text>
<text transform="translate(1180.2 1013.45) rotate(-90)" text-anchor="middle" textLength="375">Change in the fractional area</text>
<text transform="translate(1215.4 1010.6) rotate(-90)" text-anchor="middle" textLength="489.5">covered by high OHC (% per decade)</text>
<text transform="translate(1180.2 1712.75) rotate(-90)" text-anchor="middle" textLength="375">Change in the fractional area</text>
<text transform="translate(1215.4 1709.9) rotate(-90)" text-anchor="middle" textLength="489.5">covered by high OHC (% per decade)</text>
<text transform="translate(1091.3 312) rotate(-90)" text-anchor="middle">PI (m s<tspan font-size="20.2" dy="-10.1">−1</tspan><tspan dy="10.1">)</tspan></text>
<text transform="translate(1091.3 1012.6) rotate(-90)" text-anchor="middle">PI (m s<tspan font-size="20.2" dy="-10.1">−1</tspan><tspan dy="10.1">)</tspan></text>
<text transform="translate(1091.3 1711) rotate(-90)" text-anchor="middle">PI (m s<tspan font-size="20.2" dy="-10.1">−1</tspan><tspan dy="10.1">)</tspan></text>
<text transform="translate(2093.5 315.6) rotate(-90)" text-anchor="middle">OHC (kJ cm<tspan font-size="20.2" dy="-10.1">−2</tspan><tspan dy="10.1">)</tspan></text>
<text transform="translate(2093.5 1016.4) rotate(-90)" text-anchor="middle">OHC (kJ cm<tspan font-size="20.2" dy="-10.1">−2</tspan><tspan dy="10.1">)</tspan></text>
<text transform="translate(2093.5 1714.8) rotate(-90)" text-anchor="middle">OHC (kJ cm<tspan font-size="20.2" dy="-10.1">−2</tspan><tspan dy="10.1">)</tspan></text>
<text transform="translate(136.85 39.2) scale(0.948 1)" font-weight="bold" stroke="#000" stroke-width="1.2" style="font-size:34px">a</text>
<text transform="translate(634.55 39.2) scale(1.038 1)" font-weight="bold" stroke="#000" stroke-width="1.2" style="font-size:34px">b</text>
<text transform="translate(1143.25 39.2) scale(1.064 1)" font-weight="bold" stroke="#000" stroke-width="1.2" style="font-size:34px">c</text>
<text transform="translate(1633.89 39.2) scale(1.031 1)" font-weight="bold" stroke="#000" stroke-width="1.2" style="font-size:34px">d</text>
<text transform="translate(136.26 752.2) scale(1.140 1)" font-weight="bold" stroke="#000" stroke-width="1.2" style="font-size:34px">e</text>
<text transform="translate(634.79 752.2) scale(1.027 1)" font-weight="bold" stroke="#000" stroke-width="1.2" style="font-size:34px">f</text>
<text transform="translate(1142.74 752.2) scale(1.077 1)" font-weight="bold" stroke="#000" stroke-width="1.2" style="font-size:34px">g</text>
<text transform="translate(1632.79 752.2) scale(1.077 1)" font-weight="bold" stroke="#000" stroke-width="1.2" style="font-size:34px">h</text>
<text transform="translate(136.58 1455.2) scale(1.161 1)" font-weight="bold" stroke="#000" stroke-width="1.2" style="font-size:34px">i</text>
<text transform="translate(636.2 1455.2) scale(1.185 1)" font-weight="bold" stroke="#000" stroke-width="1.2" style="font-size:34px">j</text>
<text transform="translate(1144.08 1455.2) scale(1.122 1)" font-weight="bold" stroke="#000" stroke-width="1.2" style="font-size:34px">k</text>
<text transform="translate(1633.66 1455.2) scale(1.097 1)" font-weight="bold" stroke="#000" stroke-width="1.2" style="font-size:34px">l</text>
<text x="5.6" y="323.9" textLength="62">OBS</text>
<text x="5.8" y="1016">HIS</text>
<text x="-0.5" y="1715.6" textLength="66.5">GHG</text>
<text x="429" y="2107.8" text-anchor="middle" textLength="83.9">Month</text>
<text x="872.4" y="2107.8" text-anchor="middle" textLength="83.9">Month</text>
<text x="1430.8" y="2107.8" text-anchor="middle" textLength="83.9">Month</text>
<text x="1871.8" y="2107.8" text-anchor="middle" textLength="83.9">Month</text>
<rect x="1726.5" y="0.8" width="41.8" height="26.3" fill="none" stroke="#000" stroke-width="2"/>
<text x="1778.2" y="25.9" textLength="76.8">Trend</text>
<line x1="1881.3" y1="14.5" x2="1939.6" y2="14.5" stroke="#000" stroke-width="4.5"/>
<circle cx="1910.4" cy="14.5" r="5.3"/>
<text x="1953.5" y="25.9" textLength="155.5">Climatology</text>
</svg></body></html>
